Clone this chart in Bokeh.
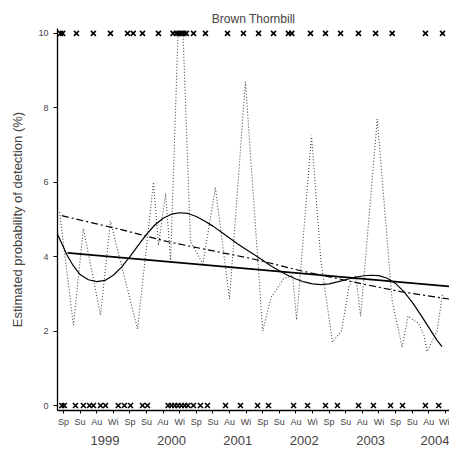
from bokeh.plotting import figure
from bokeh.models import FixedTicker, LinearAxis, Range1d
from bokeh.embed import file_html
from bokeh.resources import INLINE

# ---- data (x in season units: 0 = Spring 1999, 1 = Summer, ...) ----
seasons = ["Sp", "Su", "Au", "Wi"]
season_labels = seasons * 6
years = ["1999", "2000", "2001", "2002", "2003", "2004"]
year_pos = [2.5, 6.5, 10.5, 14.5, 18.5, 22.5]

detected_x = [-0.18, -0.05, 0.78, 1.8, 2.83, 3.86, 4.2, 4.76, 5.72, 6.6, 6.8, 6.95,
              7.1, 7.25, 7.4, 7.83, 8.55, 9.88, 10.84, 11.75, 12.65, 13.55, 13.75,
              14.88, 15.78, 16.69, 17.77, 18.8, 19.8, 21.8, 22.83]
not_detected_x = [-0.1, 0.05, 0.72, 1.2, 1.57, 1.8, 2.23, 2.53, 3.3, 3.67, 4.04, 4.76,
                  5.06, 6.3, 6.5, 6.7, 6.9, 7.1, 7.3, 7.5, 7.83, 8.25, 8.67, 9.76,
                  10.66, 11.69, 12.35, 13.86, 14.7, 15.78, 16.5, 17.77, 18.67, 19.7,
                  20.42, 21.8, 22.6]

raw_x = [-0.24, 0.6, 1.2, 2.23, 2.83, 4.46, 5.42, 5.72, 6.15, 6.45, 6.9, 7.2, 7.65,
         8.4, 9.15, 10.0, 10.96, 12.0, 12.5, 13.25, 13.8, 14.04, 14.94, 15.5, 16.2,
         16.75, 17.2, 17.6, 17.9, 18.9, 19.8, 20.4, 20.75, 21.4, 21.7, 21.9, 22.5, 22.83]
raw_y = [5.2, 2.16, 4.76, 2.43, 4.95, 2.05, 6.0, 4.3, 5.7, 3.9, 10.0, 10.0, 4.4,
         3.8, 5.85, 2.86, 8.7, 2.0, 2.9, 3.4, 3.5, 2.3, 7.25, 3.9, 1.7,
         2.0, 3.2, 3.5, 2.4, 7.7, 2.8, 1.57, 2.4, 2.2, 1.9, 1.45, 2.0, 3.0]

linear_x = [0.24, 23.25]
linear_y = [4.1, 3.2]

trend_x = [-0.1, 3.25, 6.3, 11.5, 14.3, 18.3, 20.3, 23.25]
trend_y = [5.1, 4.75, 4.4, 3.93, 3.62, 3.24, 3.06, 2.86]

smooth_x = [-0.36, -0.1, 0.2, 0.6, 1.0, 1.5, 2.0, 2.5, 3.0, 3.5, 4.0, 4.5, 5.0, 5.5,
            6.0, 6.5, 7.0, 7.5, 8.0, 8.5, 9.0, 9.5, 10.0, 10.5, 11.0, 11.5, 12.0,
            12.5, 13.0, 13.5, 14.0, 14.5, 15.0, 15.5, 16.0, 16.5, 17.0, 17.5, 18.0,
            18.5, 19.0, 19.5, 20.0, 20.5, 21.0, 21.5, 22.0, 22.5, 22.8]
smooth_y = [4.6, 4.35, 4.05, 3.75, 3.52, 3.38, 3.33, 3.36, 3.5, 3.72, 4.0, 4.3, 4.6,
            4.85, 5.03, 5.14, 5.18, 5.16, 5.08, 4.96, 4.82, 4.66, 4.5, 4.34, 4.19,
            4.05, 3.9, 3.75, 3.62, 3.5, 3.4, 3.32, 3.27, 3.25, 3.27, 3.32, 3.38,
            3.44, 3.48, 3.5, 3.49, 3.42, 3.28, 3.06, 2.78, 2.45, 2.1, 1.75, 1.58]

FONT = "Liberation Sans"

p = figure(width=449, height=453, output_backend="svg", toolbar_location=None,
           x_range=Range1d(-0.36, 23.25), y_range=Range1d(-0.134, 10.13),
           min_border_left=57, min_border_right=0, min_border_top=28,
           min_border_bottom=43, title="Brown Thornbill")
p.title.align = "center"
p.title.text_font = FONT
p.title.text_font_size = "12px"
p.title.text_font_style = "normal"
p.title.offset = 0
p.title.standoff = 6
p.grid.visible = False
p.outline_line_color = None
p.background_fill_color = "white"
p.border_fill_color = "white"

# data marks
p.line(raw_x, raw_y, line_color="#444444", line_width=1.1, line_dash="1 2")
p.line(smooth_x, smooth_y, line_color="black", line_width=1.2)
p.line(linear_x, linear_y, line_color="black", line_width=1.6)
p.line(trend_x, trend_y, line_color="black", line_width=1.2, line_dash="7 3 2 3")
p.scatter(detected_x, [10] * len(detected_x), marker="x", size=7,
          line_color="black", line_width=1.6)
p.scatter(not_detected_x, [0] * len(not_detected_x), marker="x", size=7,
          line_color="black", line_width=1.6)

# y axis
ya = p.yaxis[0]
ya.ticker = FixedTicker(ticks=[0, 2, 4, 6, 8, 10])
ya.minor_tick_line_color = None
ya.major_tick_in = 0
ya.major_tick_out = 4
ya.major_label_text_font = FONT
ya.major_label_text_font_size = "9px"
ya.axis_label = "Estimated probability of detection (%)"
ya.axis_label_text_font = FONT
ya.axis_label_text_font_size = "13px"
ya.axis_label_text_font_style = "normal"
ya.axis_label_standoff = 10
ya.axis_line_width = 1.3

# x axis (seasons)
xa = p.xaxis[0]
xa.ticker = FixedTicker(ticks=list(range(len(season_labels))))
xa.major_label_overrides = {i: s for i, s in enumerate(season_labels)}
xa.minor_tick_line_color = None
xa.major_tick_in = 0
xa.major_tick_out = 3
xa.major_label_standoff = 3
xa.major_label_text_font = FONT
xa.major_label_text_font_size = "9px"
xa.axis_line_width = 1.3

# year axis
yr = LinearAxis(ticker=FixedTicker(ticks=year_pos),
                major_label_overrides={pos: y for pos, y in zip(year_pos, years)})
yr.axis_line_color = None
yr.major_tick_line_color = None
yr.minor_tick_line_color = None
yr.major_label_standoff = 0
yr.major_label_text_font = FONT
yr.major_label_text_font_size = "13px"
p.add_layout(yr, "below")

open("out.html", "w").write(file_html(p, INLINE))
